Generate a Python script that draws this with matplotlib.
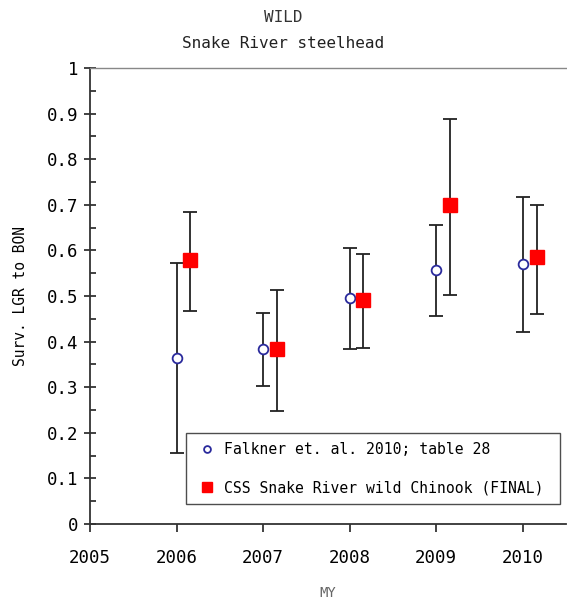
import numpy as np
import matplotlib
matplotlib.use('Agg')
import matplotlib.pyplot as plt

years = [2006, 2007, 2008, 2009, 2010]

falkner = [0.364, 0.383, 0.495, 0.558, 0.570]
falkner_lo = [0.155, 0.303, 0.383, 0.457, 0.422]
falkner_hi = [0.572, 0.463, 0.605, 0.655, 0.717]

css = [0.578, 0.383, 0.492, 0.700, 0.585]
css_lo = [0.468, 0.248, 0.385, 0.503, 0.460]
css_hi = [0.684, 0.513, 0.592, 0.888, 0.700]

y_ticks = [0, 0.1, 0.2, 0.3, 0.4, 0.5, 0.6, 0.7, 0.8, 0.9, 1]
y_ticklabels = ['0', '0.1', '0.2', '0.3', '0.4', '0.5', '0.6', '0.7',
                '0.8', '0.9', '1']
x_ticks = [2005, 2006, 2007, 2008, 2009, 2010]

offset = 0.16

plt.rcParams['font.family'] = 'DejaVu Sans Mono'

fig = plt.figure(figsize=(5.67, 6.01), dpi=100)
ax = fig.add_axes([90 / 567, 77 / 601, 476 / 567, 456 / 601])

x1 = np.array(years, dtype=float)
y1 = np.array(falkner)
err1 = [y1 - np.array(falkner_lo), np.array(falkner_hi) - y1]
ax.errorbar(x1, y1, yerr=err1, fmt='none', ecolor='#222222', elinewidth=1.3,
            capsize=5, capthick=1.3, zorder=2)
ax.plot(x1, y1, 'o', markersize=7, markerfacecolor='white',
        markeredgecolor='#2a2a9c', markeredgewidth=1.3, linestyle='none',
        zorder=3, label='Falkner et. al. 2010; table 28')

x2 = x1 + offset
y2 = np.array(css)
err2 = [y2 - np.array(css_lo), np.array(css_hi) - y2]
ax.errorbar(x2, y2, yerr=err2, fmt='none', ecolor='#222222', elinewidth=1.3,
            capsize=5, capthick=1.3, zorder=2)
ax.plot(x2, y2, 's', markersize=9.5, color='#ff0000', linestyle='none',
        zorder=3, label='CSS Snake River wild Chinook (FINAL)')

ax.set_xlim(2005, 2010.5)
ax.set_ylim(0, 1)
ax.set_xticks(x_ticks)
ax.set_yticks(y_ticks)
ax.set_yticklabels(y_ticklabels)
ax.set_yticks(np.arange(0.05, 1.0, 0.1), minor=True)

ax.tick_params(axis='y', which='major', direction='inout', length=9,
               width=1.2, labelsize=12.5, pad=4, color='#222222')
ax.tick_params(axis='y', which='minor', direction='in', length=4,
               width=1.2, color='#222222')
ax.tick_params(axis='x', which='major', direction='out', length=6,
               width=1.2, labelsize=12.5, pad=12, color='#222222')

ax.spines['right'].set_visible(False)
ax.spines['left'].set_linewidth(1.3)
ax.spines['bottom'].set_linewidth(1.3)
ax.spines['left'].set_color('#333333')
ax.spines['bottom'].set_color('#333333')
ax.spines['top'].set_color('#888888')
ax.spines['top'].set_linewidth(1.0)

ax.set_ylabel('Surv. LGR to BON', fontsize=10.5)
ax.yaxis.set_label_coords(-0.147, 0.5)
ax.yaxis.label.set_va('center')
ax.set_xlabel('MY', fontsize=10, color='#666666')
ax.xaxis.set_label_coords(0.5, -0.151)
ax.xaxis.label.set_va('center')

fig.text(0.5, 1 - 17 / 601, 'WILD', ha='center', va='center', fontsize=11.5,
         color='#333333')
fig.text(0.5, 1 - 43 / 601, 'Snake River steelhead', ha='center',
         va='center', fontsize=11.5, color='#222222')

leg = ax.legend(loc='upper left', bbox_to_anchor=(0.2017, 0.0417, 0.7857, 0.1579),
                mode='expand', borderaxespad=0, fontsize=10.6, frameon=True,
                fancybox=False, handlelength=1.6, handletextpad=0.4,
                borderpad=0.6, labelspacing=1.6, markerscale=0.7)
leg.get_frame().set_edgecolor('#222222')
leg.get_frame().set_linewidth(1.0)

fig.savefig('out.png', dpi=100)
